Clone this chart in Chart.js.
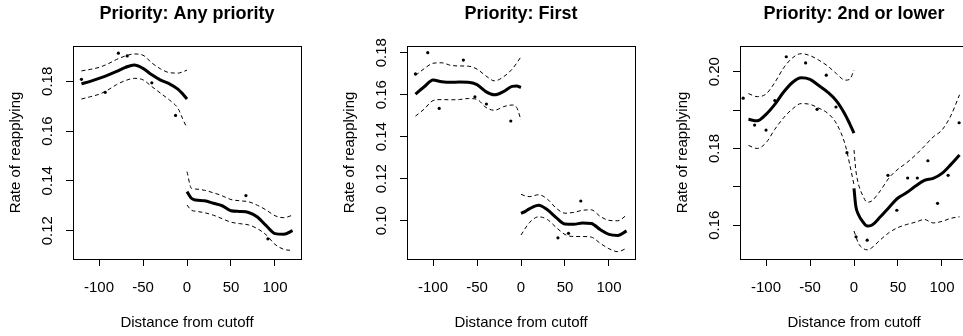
<!DOCTYPE html>
<html>
<head>
<meta charset="utf-8">
<script src="https://cdn.jsdelivr.net/npm/chart.js@4.4.1/dist/chart.umd.min.js"></script>
<style>
    html, body { margin: 0; padding: 0; background: #fff; }
    body { width: 963px; height: 336px; overflow: hidden; position: relative; }
    canvas { position: absolute; top: 0; }
</style>
</head>
<body>
<canvas id="panel0" width="334" height="336" style="left:0px"></canvas>
<canvas id="panel1" width="334" height="336" style="left:334px"></canvas>
<canvas id="panel2" width="334" height="336" style="left:667px"></canvas>
<script>
"use strict";

// shared axis stuff
const xTicks = [-100, -50, 0, 50, 100];
const xTickLabels = ['-100', '-50', '0', '50', '100'];
const titles = ['Priority: Any priority', 'Priority: First', 'Priority: 2nd or lower'];
const xTitle = 'Distance from cutoff';
const yTitle = 'Rate of reapplying';

// panel 1: any priority
const anyXLeft = [-120, -110, -100, -90, -80, -70, -60, -50, -40, -30, -20, -10, -5, 0];
const anyFitLeft = [0.1790, 0.1800, 0.1812, 0.1825, 0.1840, 0.1856, 0.1866, 0.1852, 0.1826, 0.1805, 0.1790, 0.1768, 0.1750, 0.1729];
const anyUpLeft = [0.1842, 0.1848, 0.1856, 0.1870, 0.1888, 0.1902, 0.1910, 0.1905, 0.1874, 0.1850, 0.1835, 0.1833, 0.1838, 0.1845];
const anyLoLeft = [0.1729, 0.1738, 0.1748, 0.1765, 0.1787, 0.1803, 0.1812, 0.1806, 0.1779, 0.1752, 0.1725, 0.1690, 0.1650, 0.1612];
const anyXRight = [0, 5, 10, 20, 30, 40, 50, 60, 70, 80, 90, 100, 110, 120];
const anyFitRight = [0.1357, 0.1330, 0.1323, 0.1320, 0.1310, 0.1300, 0.1280, 0.1277, 0.1273, 0.1255, 0.1220, 0.1188, 0.1185, 0.1200];
const anyUpRight = [0.1437, 0.1370, 0.1367, 0.1362, 0.1352, 0.1340, 0.1325, 0.1320, 0.1316, 0.1302, 0.1283, 0.1260, 0.1252, 0.1262];
const anyLoRight = [0.1303, 0.1282, 0.1278, 0.1272, 0.1262, 0.1248, 0.1234, 0.1228, 0.1223, 0.1208, 0.1183, 0.1145, 0.1125, 0.1120];
const anyPtX = [-120, -93, -78, -68, -40, -13, 67, 92];
const anyPtY = [0.1808, 0.1756, 0.1913, 0.1902, 0.1794, 0.1663, 0.1341, 0.1167];
const anyYTicks = [0.12, 0.14, 0.16, 0.18];
const anyYLabels = ['0.12', '0.14', '0.16', '0.18'];

// panel 2: first priority
const firstXLeft = [-120, -110, -100, -90, -80, -70, -60, -50, -40, -30, -20, -10, -5, 0];
const firstFitLeft = [0.1603, 0.1638, 0.1670, 0.1662, 0.1659, 0.1661, 0.1660, 0.1648, 0.1615, 0.1600, 0.1615, 0.1640, 0.1642, 0.1635];
const firstUpLeft = [0.1692, 0.1724, 0.1750, 0.1752, 0.1740, 0.1737, 0.1736, 0.1722, 0.1690, 0.1666, 0.1685, 0.1722, 0.1750, 0.1781];
const firstLoLeft = [0.1498, 0.1532, 0.1572, 0.1577, 0.1576, 0.1577, 0.1582, 0.1578, 0.1540, 0.1526, 0.1543, 0.1551, 0.1540, 0.1480];
const firstXRight = [0, 5, 10, 20, 30, 40, 50, 60, 70, 80, 90, 100, 110, 120];
const firstFitRight = [0.1035, 0.1045, 0.1058, 0.1074, 0.1052, 0.1015, 0.0985, 0.0984, 0.0989, 0.0987, 0.0958, 0.0935, 0.0930, 0.0952];
const firstUpRight = [0.1126, 0.1118, 0.1115, 0.1124, 0.1103, 0.1060, 0.1036, 0.1040, 0.1050, 0.1052, 0.1021, 0.1002, 0.1000, 0.1027];
const firstLoRight = [0.0932, 0.0965, 0.0993, 0.1019, 0.1006, 0.0968, 0.0935, 0.0925, 0.0925, 0.0922, 0.0893, 0.0867, 0.0853, 0.0869];
const firstPtX = [-120, -106, -93, -65.5, -52.4, -39.3, -11.6, 42, 54, 68];
const firstPtY = [0.1699, 0.1800, 0.1535, 0.1765, 0.1590, 0.1556, 0.1475, 0.0919, 0.0940, 0.1094];
const firstYTicks = [0.10, 0.12, 0.14, 0.16, 0.18];
const firstYLabels = ['0.10', '0.12', '0.14', '0.16', '0.18'];

// panel 3: 2nd or lower
const lowerXLeft = [-120, -110, -100, -90, -80, -70, -60, -50, -40, -30, -20, -10, -5, 0];
const lowerFitLeft = [0.1876, 0.1872, 0.1889, 0.1915, 0.1947, 0.1972, 0.1984, 0.1980, 0.1964, 0.1947, 0.1924, 0.1888, 0.1865, 0.1840];
const lowerUpLeft = [0.1943, 0.1935, 0.1942, 0.1972, 0.2010, 0.2036, 0.2047, 0.2042, 0.2030, 0.2015, 0.1995, 0.1978, 0.1980, 0.2004];
const lowerLoLeft = [0.1808, 0.1800, 0.1815, 0.1850, 0.1880, 0.1903, 0.1917, 0.1915, 0.1905, 0.1892, 0.1865, 0.1810, 0.1760, 0.1705];
const lowerXRight = [0, 2, 5, 10, 15, 20, 30, 40, 50, 60, 70, 80, 90, 100, 110, 120];
const lowerFitRight = [0.1696, 0.1650, 0.1628, 0.1609, 0.1598, 0.1600, 0.1622, 0.1647, 0.1671, 0.1685, 0.1702, 0.1717, 0.1722, 0.1735, 0.1758, 0.1783];
const lowerUpRight = [0.1796, 0.1745, 0.1708, 0.1677, 0.1660, 0.1663, 0.1690, 0.1724, 0.1746, 0.1763, 0.1783, 0.1806, 0.1830, 0.1848, 0.1885, 0.1940];
const lowerLoRight = [0.1585, 0.1572, 0.1553, 0.1540, 0.1536, 0.1541, 0.1562, 0.1581, 0.1594, 0.1602, 0.1608, 0.1615, 0.1606, 0.1610, 0.1618, 0.1622];
const lowerPtX = [-126, -113, -100, -90, -77, -55, -42, -31.5, -20.5, -8, 2.3, 15, 38.6, 48.7, 61, 72, 84, 95, 107, 119.5];
const lowerPtY = [0.1931, 0.1861, 0.1848, 0.1925, 0.2039, 0.2023, 0.1902, 0.1991, 0.1908, 0.1789, 0.1570, 0.1561, 0.1730, 0.1639, 0.1723, 0.1723, 0.1768, 0.1657, 0.1730, 0.1867];
const lowerYTicks = [0.16, 0.17, 0.18, 0.19, 0.20];
const lowerYLabels = ['0.16', '', '0.18', '', '0.20'];

const FONT = "'Liberation Sans', Arial, sans-serif";

// zip x and y arrays into points for chart.js
function pts(xs, ys) {
    return xs.map(function (x, i) { return { x: x, y: ys[i] }; });
}

function fitLine(xs, ys) {
    return { data: pts(xs, ys), borderColor: '#000', borderWidth: 3, pointRadius: 0, cubicInterpolationMode: 'monotone' };
}

function ciLine(xs, ys) {
    return { data: pts(xs, ys), borderColor: '#000', borderWidth: 1, borderDash: [4, 3], pointRadius: 0, cubicInterpolationMode: 'monotone' };
}

// draws the R style box, titles and the rotated y labels
const rStyle = {
    id: 'rStyle',
    afterDraw: function (chart, args, opts) {
        const ctx = chart.ctx;
        const area = chart.chartArea;
        const yScale = chart.scales.y;
        ctx.save();
        ctx.strokeStyle = '#000';
        ctx.lineWidth = 1;
        ctx.strokeRect(area.left + 0.5, area.top + 0.5, area.right - area.left, area.bottom - area.top);

        ctx.fillStyle = '#000';
        ctx.textAlign = 'center';
        ctx.textBaseline = 'alphabetic';
        const cx = (area.left + area.right) / 2;
        ctx.font = 'bold 18px ' + FONT;
        ctx.fillText(opts.title, cx, 19);
        ctx.font = '15px ' + FONT;
        ctx.fillText(xTitle, cx, 327);

        ctx.save();
        ctx.translate(area.left - 57, (area.top + area.bottom) / 2);
        ctx.rotate(-Math.PI / 2);
        ctx.textBaseline = 'middle';
        ctx.fillText(yTitle, 0, 0);
        ctx.restore();

        opts.yTicks.forEach(function (v, i) {
            if (!opts.yLabels[i]) return;
            ctx.save();
            ctx.translate(area.left - 25, yScale.getPixelForValue(v));
            ctx.rotate(-Math.PI / 2);
            ctx.textBaseline = 'middle';
            ctx.fillText(opts.yLabels[i], 0, 0);
            ctx.restore();
        });
        ctx.restore();
    }
};

function makePanel(id, title, yMin, yMax, yTicks, yLabels, datasets) {
    return new Chart(document.getElementById(id), {
        type: 'line',
        data: { datasets: datasets },
        plugins: [rStyle],
        options: {
            responsive: false,
            animation: false,
            devicePixelRatio: 1,
            layout: { padding: { top: 46, right: 33, left: 0, bottom: 0 } },
            plugins: {
                legend: { display: false },
                tooltip: { enabled: false },
                rStyle: { title: title, yTicks: yTicks, yLabels: yLabels }
            },
            scales: {
                x: {
                    type: 'linear',
                    min: -129.6,
                    max: 129.6,
                    afterBuildTicks: function (scale) {
                        scale.ticks = xTicks.map(function (v) { return { value: v }; });
                    },
                    afterFit: function (scale) { scale.height = 77; },
                    border: { display: false },
                    grid: { drawOnChartArea: false, drawTicks: true, tickLength: 7, color: '#000' },
                    ticks: {
                        autoSkip: false,
                        maxRotation: 0,
                        padding: 13,
                        color: '#000',
                        font: { family: FONT, size: 15 },
                        callback: function (value) { return xTickLabels[xTicks.indexOf(value)]; }
                    }
                },
                y: {
                    type: 'linear',
                    min: yMin,
                    max: yMax,
                    afterBuildTicks: function (scale) {
                        scale.ticks = yTicks.map(function (v) { return { value: v }; });
                    },
                    afterFit: function (scale) { scale.width = 73; },
                    border: { display: false },
                    grid: { drawOnChartArea: false, drawTicks: true, tickLength: 7, color: '#000' },
                    ticks: { display: false }
                }
            }
        }
    });
}

makePanel('panel0', titles[0], 0.1086, 0.1942, anyYTicks, anyYLabels, [
    fitLine(anyXLeft, anyFitLeft), fitLine(anyXRight, anyFitRight),
    ciLine(anyXLeft, anyUpLeft), ciLine(anyXLeft, anyLoLeft),
    ciLine(anyXRight, anyUpRight), ciLine(anyXRight, anyLoRight),
    { data: pts(anyPtX, anyPtY), showLine: false, pointRadius: 1.6, pointBackgroundColor: '#000', pointBorderWidth: 0 }
]);

makePanel('panel1', titles[1], 0.0818, 0.1832, firstYTicks, firstYLabels, [
    fitLine(firstXLeft, firstFitLeft), fitLine(firstXRight, firstFitRight),
    ciLine(firstXLeft, firstUpLeft), ciLine(firstXLeft, firstLoLeft),
    ciLine(firstXRight, firstUpRight), ciLine(firstXRight, firstLoRight),
    { data: pts(firstPtX, firstPtY), showLine: false, pointRadius: 1.6, pointBackgroundColor: '#000', pointBorderWidth: 0 }
]);

makePanel('panel2', titles[2], 0.1512, 0.2067, lowerYTicks, lowerYLabels, [
    fitLine(lowerXLeft, lowerFitLeft), fitLine(lowerXRight, lowerFitRight),
    ciLine(lowerXLeft, lowerUpLeft), ciLine(lowerXLeft, lowerLoLeft),
    ciLine(lowerXRight, lowerUpRight), ciLine(lowerXRight, lowerLoRight),
    { data: pts(lowerPtX, lowerPtY), showLine: false, pointRadius: 1.6, pointBackgroundColor: '#000', pointBorderWidth: 0 }
]);
</script>
</body>
</html>
